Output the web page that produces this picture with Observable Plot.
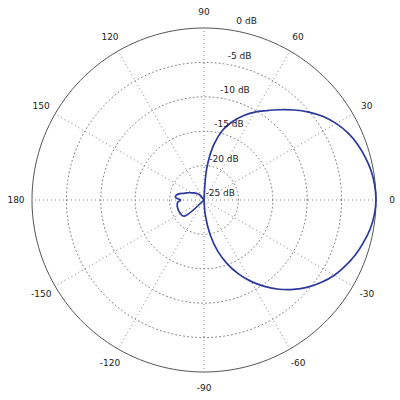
<!DOCTYPE html>
<html>
<head>
<meta charset="utf-8">
<script src="https://cdn.jsdelivr.net/npm/d3@7"></script>
<script src="https://cdn.jsdelivr.net/npm/@observablehq/plot@0.6"></script>
<style>
  html, body { margin: 0; padding: 0; background: #fff; }
  #chart svg { display: block; overflow: visible; }
</style>
</head>
<body>
<div id="chart"></div>
<script>
// Angle tick positions (degrees) and their labels
const angleTicks = [0, 30, 60, 90, 120, 150, 180, -150, -120, -90, -60, -30];
const angleLabels = ["0", "30", "60", "90", "120", "150", "180", "-150", "-120", "-90", "-60", "-30"];
// Radial (dB) ticks and labels
const dbTicks = [0, -5, -10, -15, -20, -25];
const dbLabels = ["0 dB", "-5 dB", "-10 dB", "-15 dB", "-20 dB", "-25 dB"];
const dbMin = -25;

// Main lobe: angle (deg) and level (dB)
const mainAngles = [-90, -85, -80, -75, -70, -65, -60, -55, -50, -45, -40, -35, -30, -25, -20, -15, -10, -5,
  0, 5, 10, 15, 20, 25, 30, 35, 40, 45, 50, 55, 60, 65, 70, 75, 80, 85, 90];
const mainDb = [-25, -22.8, -19.9, -17.3, -15.12, -13.15, -11.34, -9.67, -8.07, -6.61, -5.3, -4.14, -3.13, -2.33, -1.6, -1.02, -0.49, -0.15,
  0, -0.1, -0.35, -0.76, -1.26, -1.92, -2.79, -3.85, -5.12, -6.5, -7.88, -9.16, -10.25, -11.48, -12.86, -14.46, -16.86, -20.35, -25];

// Back lobe: angle (deg) and level (dB)
const backAngles = [125, 130, 135, 140, 145, 150, 155, 160, 165, 170, 175, 180, 185, 190, 195, 200, 205, 210, 215, 220, 224];
const backDb = [-25, -24.0, -23.7, -23.5, -23.2, -22.9, -22.5, -22.1, -21.4, -20.9, -20.85, -21.6, -21.15, -21.05, -21.0, -21.0, -21.0, -21.05, -21.1, -21.4, -25];

const rad = d => d * Math.PI / 180;
const R = 0 - dbMin; // outer radius in data units
const toXY = (a, db) => {
  const r = Math.max(0, db - dbMin);
  return {x: r * Math.cos(rad(a)), y: r * Math.sin(rad(a))};
};

const mainPts = mainAngles.map((a, i) => ({...toXY(a, mainDb[i]), s: "main"}));
const backPts = backAngles.map((a, i) => ({...toXY(a, backDb[i]), s: "back"}));

// grid rings
const ringSteps = d3.range(0, 361, 2);
const ringPts = dbTicks.filter(d => d > dbMin).flatMap(db =>
  ringSteps.map(a => ({...toXY(a, db), ring: db})));
const innerRings = ringPts.filter(d => d.ring !== 0);
const outerRing = ringPts.filter(d => d.ring === 0);

const spokes = angleTicks.map(a => ({x2: R * Math.cos(rad(a)), y2: R * Math.sin(rad(a))}));

const labelR = R * 188 / 172;
const angleText = angleTicks.map((a, i) => ({x: labelR * Math.cos(rad(a)), y: labelR * Math.sin(rad(a)), t: angleLabels[i]}));

const pxPerUnit = 344 / 50;
const dbText = dbTicks.map((db, i) => {
  const u = db - dbMin;
  const rpx = u * pxPerUnit;
  const offX = 1.5 + 0.09 * rpx + 0.00052 * rpx * rpx;
  return {x: offX / pxPerUnit, y: (rpx + 6.6) / pxPerUnit, t: dbLabels[i]};
});

const font = "DejaVu Sans";
const chart = Plot.plot({
  width: 400,
  height: 400,
  marginLeft: 31.5,
  marginRight: 24.5,
  marginTop: 27.5,
  marginBottom: 28.5,
  x: {domain: [-R, R], axis: null},
  y: {domain: [-R, R], axis: null},
  style: {fontFamily: font, fontSize: "9px", background: "#fff", overflow: "visible"},
  marks: [
    Plot.line(innerRings, {x: "x", y: "y", z: "ring", stroke: "#808080", strokeWidth: 1, strokeDasharray: "1,3"}),
    Plot.link(spokes, {x1: 0, y1: 0, x2: "x2", y2: "y2", stroke: "#808080", strokeWidth: 1, strokeDasharray: "1,3"}),
    Plot.line(outerRing, {x: "x", y: "y", stroke: "#555", strokeWidth: 1}),
    Plot.line(mainPts, {x: "x", y: "y", stroke: "#2a389e", strokeWidth: 1.7, curve: "catmull-rom"}),
    Plot.line(backPts, {x: "x", y: "y", stroke: "#2a389e", strokeWidth: 1.7, curve: "catmull-rom"}),
    Plot.text(angleText, {x: "x", y: "y", text: "t", fill: "#222", fontSize: 9, textAnchor: "middle"}),
    Plot.text(dbText, {x: "x", y: "y", text: "t", fill: "#222", fontSize: 9, textAnchor: "start"})
  ]
});
document.getElementById("chart").appendChild(chart);
</script>
</body>
</html>
